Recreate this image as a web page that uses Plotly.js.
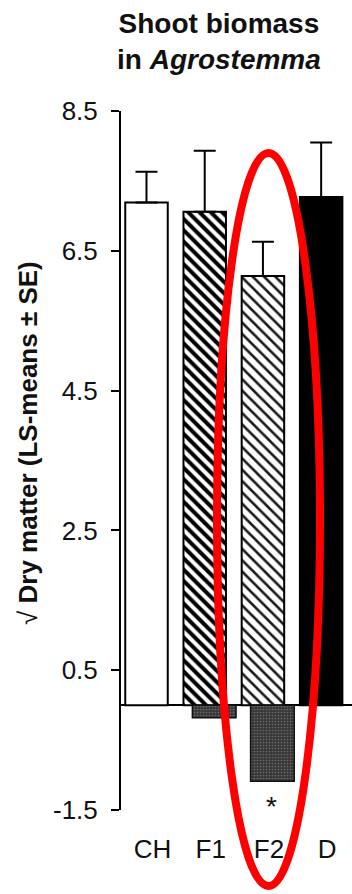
<!DOCTYPE html>
<html>
<head>
<meta charset="utf-8">
<script src="https://cdn.plot.ly/plotly-3.0.1.min.js"></script>
<style>
  html, body { margin: 0; padding: 0; background: #fff; }
  #chart { width: 352px; height: 894px; }
</style>
</head>
<body>
<div id="chart"></div>
<script>
// ---- data ----
const categories = ['CH', 'F1', 'F2', 'D'];
const positiveMeans = [7.19, 7.06, 6.14, 7.27];
const positiveSE = [0.44, 0.87, 0.49, 0.78];
const negativeMeans = [null, -0.18, -1.09, null];
const yTickVals = [-1.5, 0.5, 2.5, 4.5, 6.5, 8.5];
const yTickText = ['-1.5', '0.5', '2.5', '4.5', '6.5', '8.5'];
const significance = [{ category: 'F2', label: '*', y: -1.45 }];

// ---- styling ----
const posFill = ['#ffffff', '#ffffff', '#ffffff', '#000000'];
const posPatternShape = ['', '\\', '\\', ''];
const posPatternSolidity = [0.3, 0.5, 0.32, 0.3];
const posPatternFg = ['#000000', '#000000', '#1a1a1a', '#000000'];

const font = 'Liberation Sans, Arial, Helvetica, sans-serif';

const traces = categories.map((c, i) => {
  const marker = {
    color: posFill[i],
    line: { color: '#000', width: 2 }
  };
  if (posPatternShape[i]) {
    marker.pattern = {
      shape: posPatternShape[i],
      fgcolor: posPatternFg[i],
      bgcolor: posFill[i],
      size: 8,
      solidity: posPatternSolidity[i],
      fillmode: 'replace'
    };
  }
  return {
    type: 'bar',
    x: [c],
    y: [positiveMeans[i]],
    width: 0.73,
    marker: marker,
    error_y: {
      type: 'data',
      symmetric: false,
      array: [positiveSE[i]],
      arrayminus: [0],
      color: '#000',
      thickness: 2,
      width: 11
    },
    hoverinfo: 'skip',
    showlegend: false
  };
});

traces.push({
  type: 'bar',
  x: categories,
  y: negativeMeans,
  width: 0.75,
  offset: -0.212,
  marker: {
    color: '#3b3b3b',
    line: { color: '#111', width: 1.5 },
    pattern: {
      shape: '.',
      fgcolor: '#6a6a6a',
      bgcolor: '#383838',
      size: 3,
      solidity: 0.25
    }
  },
  hoverinfo: 'skip',
  showlegend: false
});

const annotations = significance.map(s => ({
  x: s.category,
  y: s.y,
  xref: 'x',
  yref: 'y',
  xshift: 9,
  text: s.label,
  showarrow: false,
  font: { family: font, size: 28, color: '#111' }
}));

annotations.push({
  xref: 'paper', yref: 'paper',
  x: (28 - 121) / 231, y: (810 - 443) / 699,
  xanchor: 'center', yanchor: 'middle',
  textangle: -90,
  text: '√ <b>Dry matter (LS-means ± SE)</b>',
  showarrow: false,
  font: { family: font, size: 26, color: '#111' }
});

annotations.push({
  xref: 'paper', yref: 'paper',
  x: (219 - 121) / 231, y: (810 - 6) / 699,
  xanchor: 'center', yanchor: 'top',
  text: '<b>Shoot biomass</b><br><b>in <i>Agrostemma</i></b>',
  showarrow: false,
  font: { family: font, size: 28, color: '#111' }
});

const layout = {
  width: 352,
  height: 894,
  margin: { l: 121, r: 0, t: 111, b: 84 },
  paper_bgcolor: '#fff',
  plot_bgcolor: '#fff',
  barmode: 'overlay',
  xaxis: {
    type: 'category',
    range: [-0.438, 3.53],
    showline: false,
    showgrid: false,
    zeroline: false,
    ticks: '',
    ticklabelshift: 6,
    ticklabelstandoff: 21,
    tickfont: { family: font, size: 26, color: '#111' },
    fixedrange: true
  },
  yaxis: {
    range: [-1.5, 8.5],
    tickvals: yTickVals,
    ticktext: yTickText,
    ticks: 'outside',
    ticklen: 8,
    tickwidth: 2,
    tickcolor: '#000',
    showline: true,
    linecolor: '#000',
    linewidth: 2,
    showgrid: false,
    zeroline: true,
    zerolinecolor: '#000',
    zerolinewidth: 2,
    ticklabelstandoff: 8,
    tickfont: { family: font, size: 26, color: '#111' },
    fixedrange: true
  },
  annotations: annotations,
  shapes: [
    {
      type: 'circle',
      xref: 'paper', yref: 'paper',
      x0: (217 - 121) / 231, x1: (320 - 121) / 231,
      y0: (810 - 886) / 699, y1: (810 - 153) / 699,
      line: { color: '#ff0000', width: 8 },
      fillcolor: 'rgba(0,0,0,0)',
      layer: 'above'
    }
  ]
};

Plotly.newPlot('chart', traces, layout, { staticPlot: true, displayModeBar: false });
</script>
</body>
</html>
